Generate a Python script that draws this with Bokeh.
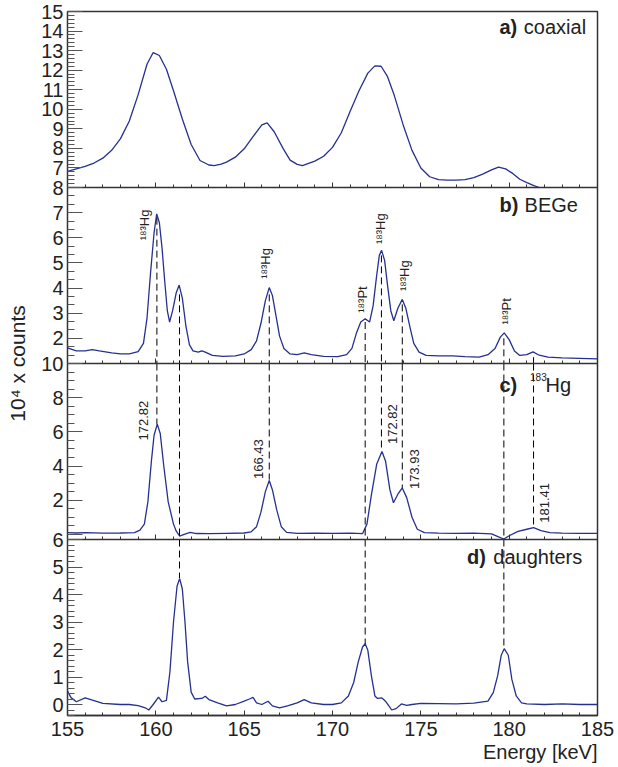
import numpy as np
from bokeh.plotting import figure
from bokeh.models import (Range1d, LinearAxis, FixedTicker, SingleIntervalTicker,
                          CustomJSTickFormatter, Title)
from bokeh.core.properties import value
from bokeh.embed import file_html
from bokeh.resources import INLINE

# ---------------- data ----------------
# a) coaxial detector  (10^4 counts)
A_KEV = [155.0, 155.5, 156.0, 156.5, 157.0, 157.5, 158.0, 158.5, 159.0, 159.5,
         159.85, 160.2, 160.6, 161.0, 161.5, 162.0, 162.5, 163.0, 163.3, 163.7,
         164.0, 164.5, 165.0, 165.5, 166.0, 166.3, 166.7, 167.2, 167.6, 168.0,
         168.3, 169.0, 169.5, 170.0, 170.5, 171.0, 171.5, 172.0, 172.4, 172.75,
         173.1, 173.5, 174.0, 174.5, 175.0, 175.5, 176.0, 176.5, 177.0, 177.5,
         178.0, 178.5, 179.0, 179.4, 179.8, 180.2, 180.6, 181.0, 181.4, 181.7]
A_CNT = [6.82, 6.95, 7.08, 7.25, 7.5, 7.9, 8.5, 9.4, 10.75, 12.3,
         12.9, 12.75, 12.05, 10.95, 9.5, 8.2, 7.38, 7.15, 7.12, 7.2,
         7.3, 7.55, 7.98, 8.6, 9.2, 9.3, 8.85, 8.0, 7.4, 7.18,
         7.12, 7.35, 7.6, 8.05, 8.8, 9.9, 10.95, 11.85, 12.22, 12.2,
         11.7, 10.7, 9.2, 7.9, 7.0, 6.55, 6.4, 6.38, 6.38, 6.4,
         6.5, 6.68, 6.9, 7.04, 6.95, 6.72, 6.42, 6.25, 6.1, 6.0]

# b) BEGe detector
B_KEV = [155.0, 155.5, 156.0, 156.4, 156.8, 157.5, 158.0, 158.5, 159.0, 159.3,
         159.5, 159.7, 159.9, 160.05, 160.2, 160.35, 160.5, 160.65, 160.78, 160.95,
         161.15, 161.32, 161.5, 161.7, 161.9, 162.1, 162.4, 162.6, 162.8, 163.2,
         163.8, 164.5, 165.0, 165.4, 165.7, 165.95, 166.2, 166.42, 166.6, 166.8,
         167.0, 167.25, 167.6, 168.0, 168.4, 168.8, 169.5, 170.3, 170.8, 171.1,
         171.35, 171.6, 171.85, 172.1, 172.3, 172.5, 172.65, 172.78, 172.95, 173.1,
         173.3, 173.47, 173.7, 173.95, 174.15, 174.4, 174.6, 174.9, 175.3, 176.0,
         176.8, 177.5, 178.3, 178.8, 179.2, 179.5, 179.72, 180.0, 180.3, 180.6,
         181.0, 181.35, 181.7, 182.2, 183.0, 184.0, 185.0]
B_CNT = [1.62, 1.5, 1.5, 1.55, 1.5, 1.42, 1.38, 1.38, 1.47, 1.8,
         2.8, 4.6, 6.2, 6.95, 6.6, 5.6, 4.3, 3.1, 2.65, 3.1,
         3.8, 4.12, 3.6, 2.5, 1.75, 1.5, 1.45, 1.5, 1.45, 1.32,
         1.28, 1.3, 1.38, 1.55, 1.9, 2.6, 3.5, 4.02, 3.7, 2.9,
         2.1, 1.6, 1.38, 1.35, 1.42, 1.35, 1.28, 1.27, 1.35, 1.6,
         2.2, 2.65, 2.78, 2.65, 3.3, 4.5, 5.3, 5.5, 5.1, 4.2,
         3.1, 2.7, 3.2, 3.55, 3.2, 2.4, 1.8, 1.45, 1.32, 1.3,
         1.3, 1.27, 1.25, 1.35, 1.6, 2.05, 2.22, 1.95, 1.5, 1.32,
         1.35, 1.46, 1.33, 1.25, 1.22, 1.2, 1.18]

# c) 183Hg component
C_KEV = [155.0, 155.5, 156.0, 157.0, 158.0, 158.8, 159.1, 159.35, 159.55, 159.75,
         159.9, 160.08, 160.25, 160.45, 160.7, 161.0, 161.15, 161.35, 161.6, 161.95,
         162.3, 163.0, 164.0, 165.0, 165.4, 165.7, 165.95, 166.2, 166.42, 166.6,
         166.85, 167.1, 167.4, 168.0, 169.0, 170.0, 171.0, 171.7, 171.95, 172.2,
         172.5, 172.8, 173.0, 173.25, 173.45, 173.7, 173.95, 174.2, 174.5, 174.8,
         175.2, 176.0, 177.0, 178.0, 179.0, 179.4, 179.7, 180.0, 180.5, 181.0,
         181.38, 181.8, 182.3, 183.0, 184.0, 185.0]
C_CNT = [0.1, 0.08, 0.1, 0.07, 0.08, 0.1, 0.25, 0.6, 1.9, 4.3,
         5.8, 6.45, 5.9, 4.0, 1.9, 0.6, 0.2, -0.1, 0.0, 0.12,
         0.05, 0.04, 0.06, 0.08, 0.15, 0.45, 1.3, 2.5, 3.15, 2.6,
         1.4, 0.45, 0.12, 0.06, 0.07, 0.06, 0.07, 0.04, 0.6, 2.3,
         4.1, 4.85, 4.3, 2.6, 1.85, 2.35, 2.72, 2.15, 1.0, 0.3,
         0.1, 0.07, 0.06, 0.07, 0.03, -0.15, -0.27, -0.08, 0.18, 0.3,
         0.39, 0.22, 0.1, 0.07, 0.06, 0.06]

# d) daughters
D_KEV = [155.0, 155.2, 155.5, 156.0, 156.5, 157.0, 158.0, 158.5, 159.0, 159.4,
         159.6, 159.85, 160.15, 160.35, 160.6, 160.8, 161.0, 161.2, 161.35, 161.5,
         161.65, 161.8, 162.0, 162.2, 162.6, 162.8, 163.0, 163.5, 164.0, 164.5,
         165.0, 165.3, 165.5, 165.7, 166.0, 166.35, 166.6, 167.0, 167.5, 168.0,
         168.4, 168.8, 169.5, 170.0, 170.5, 170.9, 171.2, 171.45, 171.7, 171.85,
         172.0, 172.2, 172.4, 172.55, 172.8, 173.0, 173.2, 173.35, 173.6, 173.9,
         174.2, 174.5, 175.0, 176.0, 177.0, 178.0, 178.8, 179.1, 179.35, 179.55,
         179.72, 179.95, 180.15, 180.4, 180.7, 181.0, 182.0, 183.0, 184.0, 185.0]
D_CNT = [0.49, 0.25, 0.1, 0.24, 0.14, 0.04, 0.0, 0.0, -0.04, -0.12,
         -0.2, 0.0, 0.27, 0.1, 0.15, 1.2, 3.0, 4.3, 4.58, 4.2,
         3.0, 1.55, 0.45, 0.2, 0.22, 0.3, 0.18, 0.06, -0.05, 0.0,
         0.12, 0.2, 0.26, 0.06, 0.0, 0.12, -0.05, -0.12, -0.04, 0.06,
         0.18, 0.06, 0.0, 0.0, 0.06, 0.31, 0.8, 1.53, 2.09, 2.21,
         1.97, 1.05, 0.31, 0.22, 0.24, 0.12, -0.06, -0.2, -0.15, 0.02,
         -0.03, 0.0, 0.04, 0.03, 0.02, 0.05, 0.12, 0.43, 1.05, 1.79,
         2.03, 1.79, 0.92, 0.31, 0.06, 0.02, 0.0, 0.02, 0.0, 0.0]

# panel y limits (top to bottom)
PANELS = ["a", "b", "c", "d"]
PANEL_LIMITS = {"a": (6.0, 15.0), "b": (1.0, 8.0), "c": (-0.3, 10.0), "d": (-0.4, 6.0)}

# axis ticks
X_RANGE = (155, 185)
Y_TICKS = {"a": [7, 8, 9, 10, 11, 12, 13, 14, 15],
           "b": [2, 3, 4, 5, 6, 7, 8],
           "c": [0, 2, 4, 6, 8, 10],
           "d": [0, 1, 2, 3, 4, 5, 6]}
Y_MINOR_PER_UNIT = {"a": 5, "b": 3, "c": 2, "d": 5}   # minor ticks per unit
Y_HIDDEN_LABELS = {"c": [0]}

# dashed marker lines
LINE_KEV = [160.06, 161.34, 166.42, 171.85, 172.77, 173.95, 179.70, 181.38]
LINE_B_FROM = [6.8, 3.75, 3.75, 2.65, 5.3, 3.35, 2.0, 1.25]
LINE_C_TO = [6.45, -0.3, 3.2, -0.3, 4.85, 2.72, -0.3, 0.39]
D_LINE_KEV = [161.34, 171.85, 179.70]
D_LINE_TO = [4.6, 2.2, 2.03]

# annotations
B_LBL_TEXT = ["¹⁸³Hg", "¹⁸³Hg", "¹⁸³Pt", "¹⁸³Hg", "¹⁸³Hg", "¹⁸³Pt"]
B_LBL_X = [159.62, 166.48, 171.98, 172.99, 174.36, 180.12]
B_LBL_Y = [5.9, 4.37, 3.02, 5.75, 3.88, 2.55]
C_LBL_TEXT = ["172.82", "166.43", "172.82", "173.93", "181.41"]
C_LBL_X = [159.6, 166.11, 173.66, 174.94, 182.3]
C_LBL_Y = [5.49, 3.24, 5.29, 2.65, 0.68]

TAG_TEXT = ["a)", "b)", "c)", "d)"]
TAG_X = [179.45, 179.45, 179.45, 177.62]
NAME_TEXT = ["coaxial", "BEGe", "Hg", "daughters"]
NAME_X = [180.83, 180.87, 182.06, 179.10]
TITLE_Y = [13.86, 7.02, 8.32, 5.10]
C_SUP_TEXT = "183"
C_SUP_X = 181.18
C_SUP_Y = 8.89

Y_TITLE = "10⁴ x counts"
X_TITLE = "Energy [keV]"

# ---------------- style ----------------
FONT = "Liberation Sans"
LINE_COLOR = "#26308f"
FRAME_COLOR = "#333333"
TICK_COLOR = "#555555"
TEXT_COLOR = "#222222"

D_LO, D_HI = PANEL_LIMITS["d"]
D_SPAN = D_HI - D_LO


def panel_range(name):
    k = PANELS.index(name)
    lo, hi = PANEL_LIMITS[name]
    s = hi - lo
    return Range1d(round(lo - (3 - k) * s, 9), round(hi + k * s, 9))


def main_coord(name, v):
    """position of a panel value on the shared (panel d) left axis"""
    k = PANELS.index(name)
    lo, hi = PANEL_LIMITS[name]
    return round(D_LO + (3 - k) * D_SPAN + (v - lo) / (hi - lo) * D_SPAN, 9)


p = figure(width=618, height=767, x_range=Range1d(*X_RANGE), y_range=panel_range("d"),
           output_backend="svg", toolbar_location=None,
           min_border_left=67, min_border_right=21, min_border_top=11, min_border_bottom=52)
p.extra_y_ranges = {n: panel_range(n) for n in ["a", "b", "c"]}
p.xgrid.visible = False
p.ygrid.visible = False
p.outline_line_color = FRAME_COLOR
p.outline_line_width = 1.5
p.background_fill_color = "white"
p.border_fill_color = "white"

# ---- shared left axis carrying the ticks of all four panels
major_pos, major_lab, minor_pos = [], [], set()
for name in PANELS:
    lo, hi = PANEL_LIMITS[name]
    for t in Y_TICKS[name]:
        major_pos.append(main_coord(name, t))
        major_lab.append("" if t in Y_HIDDEN_LABELS.get(name, []) else str(t))
    n = Y_MINOR_PER_UNIT[name]
    i0 = int(np.ceil(lo * n - 1e-9))
    i1 = int(np.floor(hi * n + 1e-9))
    for i in range(i0, i1 + 1):
        minor_pos.add(main_coord(name, i / n))
minor_pos = sorted(minor_pos)

ay = p.yaxis[0]
ay.ticker = FixedTicker(ticks=major_pos, minor_ticks=minor_pos)
ay.formatter = CustomJSTickFormatter(args=dict(pos=major_pos, lab=major_lab), code="""
    let best = 0;
    for (let i = 0; i < pos.length; i++) {
        if (Math.abs(pos[i] - tick) < Math.abs(pos[best] - tick)) best = i;
    }
    return lab[best];
""")
ay.major_tick_in = 15
ay.major_tick_out = 0
ay.minor_tick_in = 7
ay.minor_tick_out = 0
ay.major_tick_line_color = TICK_COLOR
ay.minor_tick_line_color = TICK_COLOR
ay.axis_line_color = None
ay.major_label_text_font = FONT
ay.major_label_text_font_size = "20px"
ay.major_label_text_color = TEXT_COLOR
ay.major_label_standoff = 4
ay.axis_label = Y_TITLE
ay.axis_label_text_font = FONT
ay.axis_label_text_font_size = "21px"
ay.axis_label_text_font_style = "normal"
ay.axis_label_text_color = TEXT_COLOR
ay.axis_label_standoff = 9


def style_x(ax, labels=True):
    ax.ticker = SingleIntervalTicker(interval=5, num_minor_ticks=5)
    ax.major_tick_in = 5
    ax.major_tick_out = 0
    ax.minor_tick_in = 3
    ax.minor_tick_out = 0
    ax.major_tick_line_color = FRAME_COLOR
    ax.minor_tick_line_color = FRAME_COLOR
    ax.axis_line_color = FRAME_COLOR
    ax.axis_line_width = 1.5
    ax.major_label_text_font = FONT
    ax.major_label_text_color = TEXT_COLOR
    ax.major_label_standoff = 6
    if labels:
        ax.major_label_text_font_size = "20px"
    else:
        ax.major_label_text_font_size = "1px"
        ax.major_label_text_alpha = 0


style_x(p.xaxis[0], labels=True)

# bottom edges (with inward x ticks) of the three upper panels
for name in ["a", "b", "c"]:
    ax = LinearAxis(y_range_name=name, fixed_location=PANEL_LIMITS[name][0])
    style_x(ax, labels=False)
    p.add_layout(ax, "below")

# x axis title, right aligned like the original
p.add_layout(Title(text=X_TITLE, align="right", text_font=FONT, text_font_size="20px",
                   text_font_style="normal", text_color=TEXT_COLOR, standoff=0), "below")

# spectra
for name, kev, cnt in [("a", A_KEV, A_CNT), ("b", B_KEV, B_CNT),
                       ("c", C_KEV, C_CNT), ("d", D_KEV, D_CNT)]:
    kw = {} if name == "d" else {"y_range_name": name}
    p.line(kev, cnt, line_color=LINE_COLOR, line_width=1.3, **kw)

# dashed marker lines
dash = dict(line_color="black", line_width=1, line_dash="7 4")
b_lo = PANEL_LIMITS["b"][0]
c_hi = PANEL_LIMITS["c"][1]
p.segment(x0=LINE_KEV, y0=LINE_B_FROM, x1=LINE_KEV, y1=[b_lo] * len(LINE_KEV),
          y_range_name="b", **dash)
p.segment(x0=LINE_KEV, y0=[c_hi] * len(LINE_KEV), x1=LINE_KEV, y1=LINE_C_TO,
          y_range_name="c", **dash)
p.segment(x0=D_LINE_KEV, y0=[D_HI] * len(D_LINE_KEV), x1=D_LINE_KEV, y1=D_LINE_TO, **dash)

# rotated labels
rot = dict(angle=np.pi / 2, text_font=value(FONT), text_font_size=value("13px"),
           text_color=TEXT_COLOR, text_align="left", text_baseline="alphabetic",
           x_offset=-5)
p.text(x=B_LBL_X, y=B_LBL_Y, text=B_LBL_TEXT, y_range_name="b", **rot)
p.text(x=C_LBL_X, y=C_LBL_Y, text=C_LBL_TEXT, y_range_name="c", **rot)

# panel titles
for i, name in enumerate(PANELS):
    kw = {} if name == "d" else {"y_range_name": name}
    p.text(x=[TAG_X[i]], y=[TITLE_Y[i]], text=[TAG_TEXT[i]], text_font=value(FONT),
           text_font_size=value("20px"), text_font_style="bold", text_color=TEXT_COLOR,
           text_align="left", text_baseline="alphabetic", y_offset=-7, **kw)
    p.text(x=[NAME_X[i]], y=[TITLE_Y[i]], text=[NAME_TEXT[i]], text_font=value(FONT),
           text_font_size=value("20px"), text_color=TEXT_COLOR,
           text_align="left", text_baseline="alphabetic", y_offset=-7, **kw)
p.text(x=[C_SUP_X], y=[C_SUP_Y], text=[C_SUP_TEXT], y_range_name="c", text_font=value(FONT),
       text_font_size=value("10px"), text_color=TEXT_COLOR,
       text_align="left", text_baseline="alphabetic", y_offset=-5)

with open("out.html", "w", encoding="utf-8") as f:
    f.write(file_html(p, INLINE))
